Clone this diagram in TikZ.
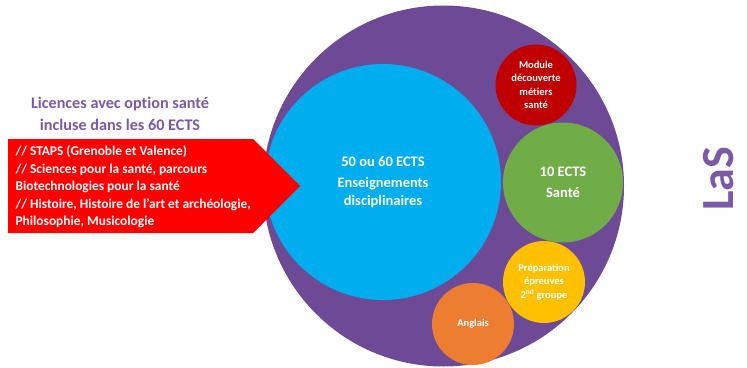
\documentclass[tikz,border=0pt]{standalone}
\usepackage{fontspec}
\setmainfont{Carlito}[Ligatures=NoCommon]
\definecolor{violetLaS}{HTML}{6E4A96}
\definecolor{violetTitre}{HTML}{7A5AA6}
\definecolor{bleuDisc}{HTML}{00AEEF}
\definecolor{rougeModule}{HTML}{C00000}
\definecolor{vertSante}{HTML}{70AD47}
\definecolor{jauneEpreuve}{HTML}{FFC000}
\definecolor{orangeAnglais}{HTML}{ED7D31}
\definecolor{rougeListe}{HTML}{FF0000}
\begin{document}
\begin{tikzpicture}[x=1pt, y=-1pt,
    bulle/.style={circle, inner sep=0pt, align=center, text=white, font=\bfseries},
    petite/.style={bulle, font=\fontsize{10.5}{13.5}\selectfont\bfseries}]
    \useasboundingbox (0,0) rectangle (747,367);
    \clip (0,0) rectangle (747,367);

    % grand cercle LaS
    \node (las) [bulle, fill=violetLaS, minimum size=361pt] at (443.5,186) {};
    \node (disc) [bulle, fill=bleuDisc, minimum size=236pt, font=\fontsize{14.5}{18}\selectfont\bfseries] at (383,182) {50 ou 60 ECTS\\[3pt]Enseignements\\disciplinaires};
    \node (module) [petite, fill=rougeModule, minimum size=81pt] at (536,85) {Module\\découverte\\métiers\\santé};
    \node (sante) [bulle, fill=vertSante, minimum size=120pt, font=\fontsize{14.5}{21}\selectfont\bfseries] at (563,182.5) {10 ECTS\\Santé};
    \node (epreuve) [petite, fill=jauneEpreuve, minimum size=82pt] at (544,282) {Préparation\\épreuves\\2\textsuperscript{nd} groupe};
    \node (anglais) [petite, fill=orangeAnglais, minimum size=82pt] at (473,324) {Anglais};

    % fleche des licences
    \fill[rougeListe] (8,139) -- (253,139) -- (300,186) -- (253,233) -- (8,233) -- cycle;
    \node (liste) [anchor=west, align=left, text=white, font=\fontsize{13.4}{17.5}\selectfont\bfseries] at (12,187)
        {// STAPS (Grenoble et Valence)\\// Sciences pour la santé, parcours\\Biotechnologies pour la santé\\// Histoire, Histoire de l’art et archéologie,\\Philosophie, Musicologie};
    \node (titre) [align=center, text=violetTitre, font=\fontsize{16.2}{22}\selectfont\bfseries] at (120,114)
        {Licences avec option santé\\incluse dans les 60 ECTS};

    \node (sigle) [rotate=90, text=violetTitre, font=\fontsize{46}{46}\selectfont\bfseries] at (719,179) {LaS};
\end{tikzpicture}
\end{document}
